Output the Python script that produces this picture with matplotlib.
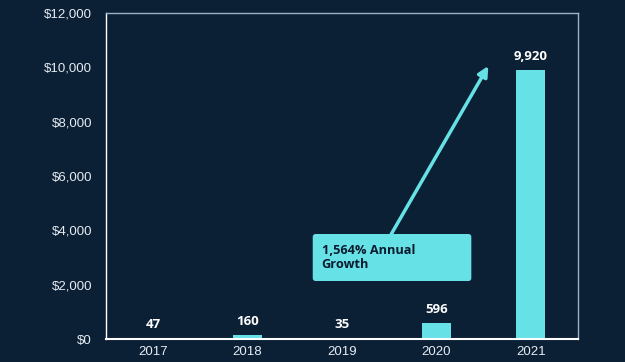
import numpy as np
import matplotlib
matplotlib.use("Agg")
import matplotlib.pyplot as plt
from matplotlib.patches import FancyBboxPatch

years = ["2017", "2018", "2019", "2020", "2021"]
values = [47, 160, 35, 596, 9920]
value_labels = ["47", "160", "35", "596", "9,920"]
yticks = [0, 2000, 4000, 6000, 8000, 10000, 12000]
ytick_labels = ["$0", "$2,000", "$4,000", "$6,000", "$8,000", "$10,000", "$12,000"]
note = "1,564% Annual\nGrowth"

bg = "#0b1f35"
bar_color = "#66e2e6"

fig = plt.figure(figsize=(6.25, 3.62), dpi=100)
fig.patch.set_facecolor(bg)
ax = fig.add_axes([0.1696, 0.0635, 0.7552, 0.9006])
ax.set_facecolor(bg)

x = np.arange(len(years))
ax.bar(x, values, width=0.31, color=bar_color, zorder=2)

for xi, v, lab in zip(x, values, value_labels):
    ax.text(xi, v + 250, lab, ha="center", va="bottom", color="white",
            fontsize=9.5, fontweight="bold", family="Open Sans")

ax.set_xlim(-0.5, 4.5)
ax.set_ylim(0, 12000)
ax.set_xticks(x)
ax.set_xticklabels(years)
ax.set_yticks(yticks)
ax.set_yticklabels(ytick_labels)
ax.tick_params(length=0, colors="#e6ecf2", labelsize=9.5, pad=10)
for t in ax.get_xticklabels() + ax.get_yticklabels():
    t.set_family("Liberation Sans")
ax.tick_params(axis="x", pad=5)

for side in ["top", "right"]:
    ax.spines[side].set_color("#9fb0c2")
    ax.spines[side].set_linewidth(1)
ax.spines["left"].set_color("white")
ax.spines["left"].set_linewidth(1)
ax.spines["bottom"].set_color("white")
ax.spines["bottom"].set_linewidth(1.5)

# growth arrow
ax.annotate("", xy=(3.55, 10050), xytext=(2.51, 3790),
            arrowprops=dict(arrowstyle="-|>,head_length=0.6,head_width=0.3",
                            color=bar_color, lw=2.5, shrinkA=0, shrinkB=0),
            zorder=3)

# annotation box (aspect converts x units to y units so corners stay round)
box = FancyBboxPatch((1.69, 2135), 3.37 - 1.69, 3865 - 2135,
                     boxstyle="round,pad=0,rounding_size=0.03",
                     mutation_aspect=3475,
                     facecolor=bar_color, edgecolor="none", zorder=4)
ax.add_patch(box)
ax.text(1.785, 3510, note, ha="left", va="top", color="#0a1a2e",
        fontsize=9.2, fontweight="bold", family="Open Sans", linespacing=1.15, zorder=5)

fig.savefig("out.png", dpi=100, facecolor=bg)
